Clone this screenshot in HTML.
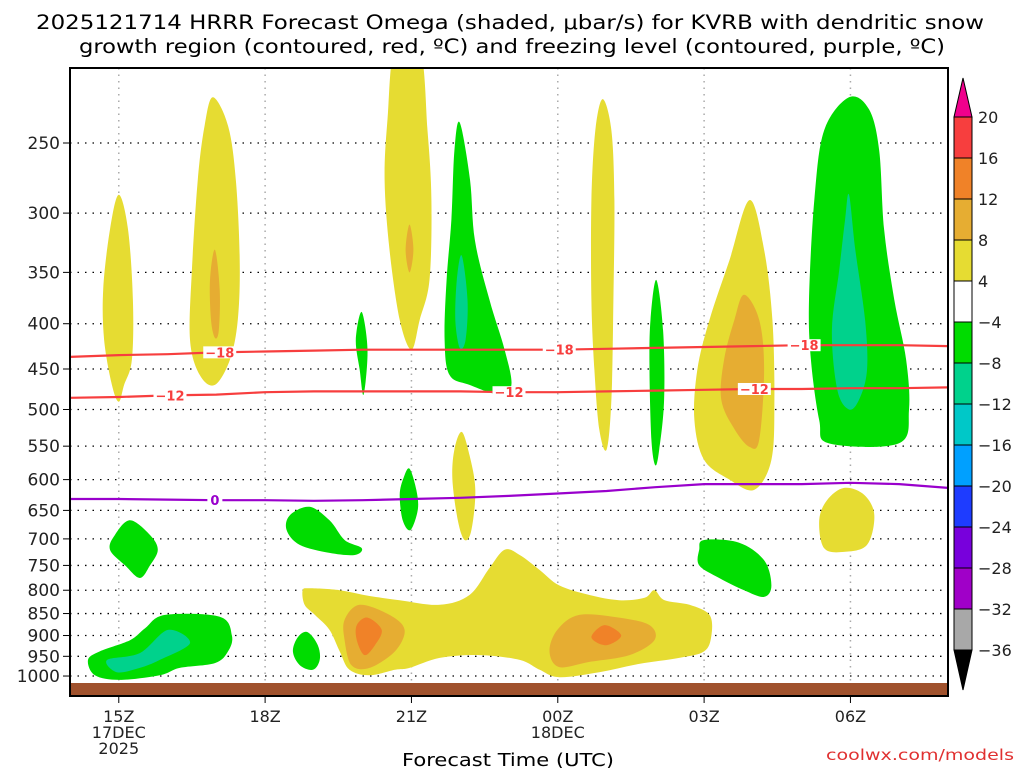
<!DOCTYPE html>
<html><head><meta charset="utf-8">
<style>
html,body{margin:0;padding:0;background:#fff;}
svg text{font-family:"DejaVu Sans","Liberation Sans",sans-serif;}
</style></head>
<body>
<svg id="chart" width="1024" height="768" xmlns="http://www.w3.org/2000/svg">
<text x="510" y="29" font-size="19.5" text-anchor="middle" fill="#000" textLength="948" lengthAdjust="spacingAndGlyphs">2025121714 HRRR Forecast Omega (shaded, μbar/s) for KVRB with dendritic snow</text>
<text x="512" y="53" font-size="19.5" text-anchor="middle" fill="#000" textLength="866" lengthAdjust="spacingAndGlyphs">growth region (contoured, red, ºC) and freezing level (contoured, purple, ºC)</text>
<defs><clipPath id="plotclip"><rect x="70" y="68" width="878" height="628"/></clipPath></defs>
<g id="grid"></g>
<g id="fills" clip-path="url(#plotclip)"></g>
<g id="contours" clip-path="url(#plotclip)"></g>
<rect x="70" y="683" width="878" height="13" fill="#a0522d"/>
<rect x="70" y="68" width="878" height="628" fill="none" stroke="#000" stroke-width="2"/>
<g id="axes"></g>
<g id="colorbar"></g>
<text x="508" y="766" font-size="18" text-anchor="middle" fill="#000" textLength="212" lengthAdjust="spacingAndGlyphs">Forecast Time (UTC)</text>
<text x="1014" y="760" font-size="15" text-anchor="end" fill="#e03030" textLength="188" lengthAdjust="spacingAndGlyphs">coolwx.com/models</text>
</svg>
<script>
// ---- data ----
const pressureTicks=[250,300,350,400,450,500,550,600,650,700,750,800,850,900,950,1000];
const timeTickHours=[1,4,7,10,13,16];
const timeTickLabels=[["15Z","17DEC","2025"],["18Z"],["21Z"],["00Z","18DEC"],["03Z"],["06Z"]];
const hours=[0,1,2,3,4,5,6,7,8,9,10,11,12,13,14,15,16,17,18];
const dgzCold=[436,434,433,431,430,429,428,428,428,428,428,427,426,425,424,423,423,423,424];
const dgzWarm=[485,484,482,481,478,477,477,477,477,478,478,477,476,475,474,474,473,473,472];
const freezing=[631,631,632,633,633,634,633,631,629,626,622,618,612,607,607,607,605,607,613];
const cbLevels=[20,16,12,8,4,-4,-8,-12,-16,-20,-24,-28,-32,-36];
const cbColors=["#f73e3e","#f08228","#e6ad32","#e6dc32","#ffffff","#00dc00","#00d28c","#00c8c8","#00a0ff","#1e3cff","#7800dc","#a000c8","#a8a8a8"];
const blobA=[[1.0,286],[1.19,313],[1.29,376],[1.27,439],[1.11,469],[1.0,490],[0.86,469],[0.70,417],[0.68,366],[0.82,313]];
const blobB=[[2.93,222],[3.24,239],[3.40,275],[3.48,339],[3.44,396],[3.28,439],[2.97,469],[2.66,457],[2.46,417],[2.50,348],[2.62,275],[2.76,239]];
const blobBo=[[2.97,330],[3.07,366],[3.05,407],[2.97,415],[2.89,396],[2.87,357]];
const blobC=[[6.66,195],[7.17,195],[7.33,242],[7.41,290],[7.37,357],[7.17,396],[7.0,428],[6.76,396],[6.55,330],[6.45,275],[6.51,235]];
const blobCo=[[6.96,309],[7.04,330],[6.96,350],[6.88,330]];
const blobD=[[7.99,237],[8.2,275],[8.3,322],[8.6,376],[8.91,428],[9.05,469],[8.81,481],[8.19,469],[7.78,457],[7.68,417],[7.72,357],[7.82,305],[7.88,255]];
const blobDt=[[8.03,335],[8.15,376],[8.11,417],[7.99,426],[7.90,396],[7.93,357]];
const blobE=[[5.98,388],[6.10,428],[6.02,481],[5.94,451],[5.86,417]];
const blobF=[[10.92,223],[11.10,242],[11.16,290],[11.14,376],[11.10,487],[11.0,555],[10.85,526],[10.75,451],[10.69,376],[10.69,290],[10.77,242]];
const blobG=[[12.02,357],[12.16,407],[12.18,487],[12.08,555],[12.0,578],[11.92,541],[11.88,451],[11.90,396]];
const blobH=[[13.93,290],[14.23,330],[14.40,396],[14.44,487],[14.38,570],[14.03,616],[13.52,600],[13.0,570],[12.80,514],[12.86,451],[13.11,396],[13.52,339]];
const blobHo=[[13.82,371],[14.13,396],[14.23,451],[14.13,541],[13.93,551],[13.62,526],[13.35,487],[13.41,439],[13.62,396]];
const blobI=[[15.97,222],[16.38,229],[16.59,255],[16.69,313],[16.90,376],[17.14,439],[17.20,500],[16.99,546],[15.56,546],[15.36,514],[15.19,439],[15.15,376],[15.26,290],[15.46,242]];
const blobIt=[[15.97,286],[16.10,330],[16.30,396],[16.34,451],[16.18,487],[15.97,500],[15.73,475],[15.62,407],[15.77,348],[15.89,305]];
const blobJ=[[1.23,667],[1.64,693],[1.80,720],[1.64,750],[1.43,775],[1.13,750],[0.82,720],[0.92,693]];
const blobK=[[8.03,530],[8.19,563],[8.31,616],[8.23,684],[8.09,702],[7.95,667],[7.84,600],[7.88,555]];
const blobL=[[6.96,583],[7.10,616],[7.13,649],[6.98,684],[6.82,667],[6.76,624],[6.84,597]];
const blobM=[[4.91,644],[5.32,667],[5.63,702],[5.98,717],[5.84,730],[5.32,726],[4.71,711],[4.44,684],[4.51,658]];
const blobN=[[15.87,613],[16.28,624],[16.49,658],[16.34,711],[15.87,724],[15.46,717],[15.36,667],[15.52,633]];
const blobO=[[13.0,702],[13.72,707],[14.23,740],[14.38,790],[14.23,814],[13.82,800],[13.31,775],[12.90,750],[12.90,720]];
const blobP=[[4.77,800],[4.92,796],[5.53,800],[6.14,812],[6.76,821],[7.58,831],[8.19,810],[8.60,755],[8.91,720],[9.22,730],[9.63,759],[10.03,790],[10.65,810],[11.26,821],[11.78,816],[11.98,800],[12.19,821],[12.70,831],[13.11,853],[13.15,900],[13.0,938],[12.49,954],[11.67,969],[10.85,990],[10.03,1003],[9.63,984],[9.22,959],[8.40,947],[7.58,954],[6.96,979],[6.66,984],[6.14,998],[5.73,984],[5.53,938],[5.32,887],[5.02,853],[4.81,831]];
const blobPo1=[[5.94,831],[6.55,853],[6.86,887],[6.66,938],[6.14,979],[5.77,972],[5.63,911],[5.63,864]];
const blobPr1=[[6.10,859],[6.39,887],[6.25,923],[6.04,947],[5.88,911],[5.88,876]];
const blobPo2=[[10.44,853],[11.26,859],[11.88,876],[11.98,911],[11.47,947],[10.65,964],[10.03,977],[9.83,938],[9.99,887]];
const blobPr2=[[10.96,876],[11.30,900],[10.99,923],[10.69,904]];
const blobQ=[[0.37,959],[0.61,938],[1.23,911],[1.54,883],[1.95,853],[3.07,857],[3.32,900],[3.24,938],[2.97,967],[2.25,979],[1.84,998],[1.02,1010],[0.51,998]];
const blobQt=[[0.76,959],[1.43,942],[2.01,887],[2.46,918],[1.84,959],[1.43,979],[0.96,990]];
const blobR=[[4.87,892],[5.08,923],[5.12,959],[4.98,984],[4.71,972],[4.57,938],[4.67,904]];

// ---- axis functions ----
const X0=70,HW=878/18;
function xs(h){return X0+h*HW;}
function ys(p){return 143+Math.log(p/250)*384.5;}
const NS="http://www.w3.org/2000/svg";
function mk(tag,attrs,parent){const e=document.createElementNS(NS,tag);for(const k in attrs)e.setAttribute(k,attrs[k]);parent.appendChild(e);return e;}
function smoothPath(pts){
  const P=pts.map(d=>[xs(d[0]),ys(d[1])]);const n=P.length;let s="M"+P[0][0].toFixed(1)+","+P[0][1].toFixed(1);
  for(let i=0;i<n;i++){const p0=P[(i-1+n)%n],p1=P[i],p2=P[(i+1)%n],p3=P[(i+2)%n];
    const c1=[p1[0]+(p2[0]-p0[0])/6,p1[1]+(p2[1]-p0[1])/6],c2=[p2[0]-(p3[0]-p1[0])/6,p2[1]-(p3[1]-p1[1])/6];
    s+="C"+c1[0].toFixed(1)+","+c1[1].toFixed(1)+" "+c2[0].toFixed(1)+","+c2[1].toFixed(1)+" "+p2[0].toFixed(1)+","+p2[1].toFixed(1);}
  return s+"Z";}
function linePath(vals){let s="";hours.forEach((h,i)=>{s+=(i?"L":"M")+xs(h).toFixed(1)+","+ys(vals[i]).toFixed(1);});return s;}

// grid
const grid=document.getElementById("grid");
pressureTicks.forEach(p=>{const l=mk("line",{x1:70,x2:948,y1:ys(p),y2:ys(p),stroke:"#000","stroke-width":1.3,"stroke-dasharray":"1.5,6"},grid);
});
timeTickHours.forEach(h=>{const l=mk("line",{x1:xs(h),x2:xs(h),y1:68,y2:696,stroke:"#aaa","stroke-width":1.5,"stroke-dasharray":"1.5,5"},grid);
});

// fills
const fills=document.getElementById("fills");
const colorMap={y:"#e6dc32",go:"#e6ad32",o:"#f08228",g:"#00dc00",t:"#00d28c"};
const blobs=[[blobA,"y"],[blobB,"y"],[blobBo,"go"],[blobC,"y"],[blobCo,"go"],[blobD,"g"],[blobDt,"t"],[blobE,"g"],[blobF,"y"],[blobG,"g"],[blobH,"y"],[blobHo,"go"],[blobI,"g"],[blobIt,"t"],[blobJ,"g"],[blobK,"y"],[blobL,"g"],[blobM,"g"],[blobN,"y"],[blobO,"g"],[blobP,"y"],[blobPo1,"go"],[blobPr1,"o"],[blobPo2,"go"],[blobPr2,"o"],[blobQ,"g"],[blobQt,"t"],[blobR,"g"]];
blobs.forEach(b=>{const e=mk("path",{d:smoothPath(b[0]),fill:colorMap[b[1]]},fills);
});

// contours
const cont=document.getElementById("contours");
[[dgzCold,"#f73e3e","-18",[3.07,10.03,15.05]],[dgzWarm,"#f73e3e","-12",[2.05,9.0,14.03]],[freezing,"#9900cc","0",[2.97]]].forEach(c=>{
  const e=mk("path",{d:linePath(c[0]),fill:"none",stroke:c[1],"stroke-width":2.2},cont);
  
  c[3].forEach(h=>{const i=Math.floor(h),f=h-i;const p=c[0][i]*(1-f)+c[0][Math.min(i+1,18)]*f;const y=ys(p);
    const w=c[2].length*9+6;
    const r=mk("rect",{x:xs(h)-w/2,y:y-6,width:w,height:12,fill:"#fff"},cont);
    
    const t=mk("text",{x:xs(h),y:y+5,"font-size":13,"font-weight":"bold","text-anchor":"middle",fill:c[1]},cont);
    t.textContent=c[2]==="0"?"0":"\u2212"+c[2].slice(1);
    });
});

// axes labels
const axes=document.getElementById("axes");
pressureTicks.forEach(p=>{const t=mk("text",{x:60,y:ys(p)+6,"font-size":17,"text-anchor":"end",fill:"#222"},axes);t.textContent=p;

const tk=mk("line",{x1:63,x2:70,y1:ys(p),y2:ys(p),stroke:"#000","stroke-width":1},axes);
});
timeTickHours.forEach((h,i)=>{const tk=mk("line",{x1:xs(h),x2:xs(h),y1:696,y2:703,stroke:"#000","stroke-width":1},axes);

timeTickLabels[i].forEach((s,j)=>{const t=mk("text",{x:xs(h),y:722+j*16,"font-size":16,"text-anchor":"middle",fill:"#222"},axes);t.textContent=s;
});});

// colorbar
const cb=document.getElementById("colorbar");
const cbTop=117,cbStep=533/13;
cbColors.forEach((c,i)=>{const r=mk("rect",{x:954,y:cbTop+i*cbStep,width:18,height:cbStep,fill:c,stroke:"#000","stroke-width":1},cb);
});
const up=mk("polygon",{points:"954,117 972,117 963,78",fill:"#f0008c",stroke:"#000","stroke-width":1},cb);

const dn=mk("polygon",{points:"954,650 972,650 963,690",fill:"#000",stroke:"#000","stroke-width":1},cb);

cbLevels.forEach((v,i)=>{const t=mk("text",{x:978,y:cbTop+i*cbStep+6,"font-size":16,fill:"#222"},cb);t.textContent=(v<0?"\u2212"+(-v):v);
});
</script>
</body></html>
